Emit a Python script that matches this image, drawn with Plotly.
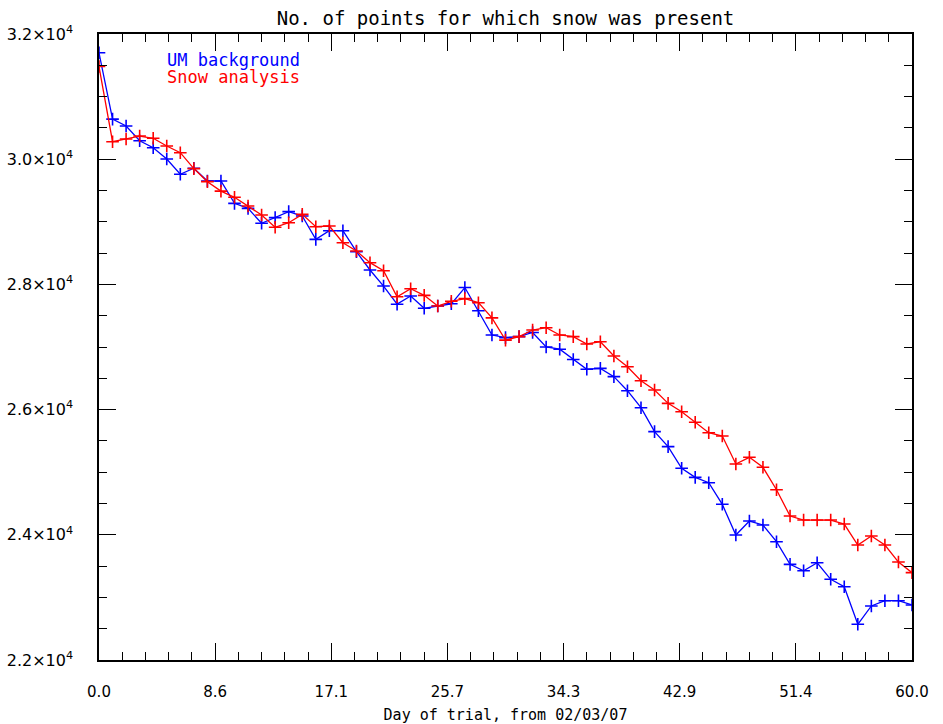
import plotly.graph_objects as go

days = list(range(61))

um_background = [
    31700, 30640, 30530, 30295, 30184, 30003, 29759, 29855, 29652, 29652,
    29295, 29215, 28976, 29066, 29162, 29092, 28720, 28858, 28858, 28522,
    28230, 27974, 27684, 27815, 27618, 27655, 27690, 27950, 27580, 27191,
    27150, 27165, 27232, 27000, 26965, 26800, 26645, 26659, 26526, 26302,
    26030, 25648, 25408, 25062, 24918, 24832, 24487, 23997, 24220, 24157,
    23890, 23528, 23426, 23554, 23289, 23171, 22570, 22863, 22947, 22947,
    22879,
]

snow_analysis = [
    31480, 30279, 30323, 30370, 30334, 30211, 30104, 29850, 29641, 29490,
    29391, 29252, 29108, 28912, 28986, 29119, 28922, 28933, 28666, 28533,
    28347, 28219, 27803, 27930, 27825, 27655, 27730, 27772, 27708, 27466,
    27110, 27165, 27271, 27308, 27192, 27165, 27048, 27085, 26856, 26685,
    26462, 26313, 26100, 25966, 25797, 25631, 25578, 25131, 25238, 25078,
    24720, 24300, 24236, 24236, 24236, 24172, 23837, 23981, 23837, 23565,
    23395,
]

y_tickvals = [22000, 24000, 26000, 28000, 30000, 32000]
y_ticktext = ["2.2×10<sup>4</sup>", "2.4×10<sup>4</sup>", "2.6×10<sup>4</sup>",
              "2.8×10<sup>4</sup>", "3.0×10<sup>4</sup>", "3.2×10<sup>4</sup>"]
x_tickvals = [i * 60 / 7 for i in range(8)]
x_ticktext = ["0.0", "8.6", "17.1", "25.7", "34.3", "42.9", "51.4", "60.0"]

title_text = "No. of points for which snow was present"
x_title = "Day of trial, from 02/03/07"
names = ["UM background", "Snow analysis"]
colors = ["rgb(0,0,255)", "rgb(255,0,0)"]

SANS = "DejaVu Sans"
MONO = "DejaVu Sans Mono"

fig = go.Figure()
for vals, name, col in [(um_background, names[0], colors[0]), (snow_analysis, names[1], colors[1])]:
    fig.add_trace(go.Scatter(
        x=days, y=vals, mode="lines+markers", name=name,
        line=dict(color=col, width=1.3),
        marker=dict(symbol="cross-thin", size=9, line=dict(color=col, width=1.6)),
        showlegend=False,
    ))

fig.add_annotation(x=0.081, y=0.958, xref="paper", yref="paper", text=names[0],
                   showarrow=False, xanchor="left", yanchor="middle",
                   font=dict(family=MONO, size=17, color=colors[0]))
fig.add_annotation(x=0.081, y=0.932, xref="paper", yref="paper", text=names[1],
                   showarrow=False, xanchor="left", yanchor="middle",
                   font=dict(family=MONO, size=17, color=colors[1]))

fig.update_layout(
    width=943, height=724,
    margin=dict(l=99, r=31, t=34, b=64),
    paper_bgcolor="white", plot_bgcolor="white",
    font=dict(family=SANS, size=15, color="black"),
    title=dict(text=title_text, x=0.5, xref="paper", xanchor="center",
               y=1 - 18 / 724, yanchor="middle", font=dict(family=MONO, size=19, color="black")),
)

fig.update_xaxes(
    range=[0, 60], showgrid=False, zeroline=False, automargin=False,
    showline=True, linecolor="black", linewidth=1.5, mirror="ticks",
    ticks="inside", ticklen=17, tickwidth=1.4, tickcolor="black",
    tickmode="array", tickvals=x_tickvals, ticktext=x_ticktext,
    tickfont=dict(family=SANS, size=15),
    ticklabelstandoff=17,
    minor=dict(ticks="inside", ticklen=8, tickwidth=1.4, tickcolor="black",
               tick0=0, dtick=60 / 35, showgrid=False),
    title=dict(text=x_title, font=dict(family=MONO, size=15), standoff=16),
)
fig.update_yaxes(
    range=[22000, 32000], showgrid=False, zeroline=False, automargin=False,
    showline=True, linecolor="black", linewidth=1.5, mirror="ticks",
    ticks="inside", ticklen=17, tickwidth=1.4, tickcolor="black",
    tickmode="array", tickvals=y_tickvals, ticktext=y_ticktext,
    tickfont=dict(family=SANS, size=16),
    ticklabelstandoff=21,
    minor=dict(ticks="inside", ticklen=8, tickwidth=1.4, tickcolor="black",
               tick0=22000, dtick=500, showgrid=False),
)

fig.write_html("out.html")
